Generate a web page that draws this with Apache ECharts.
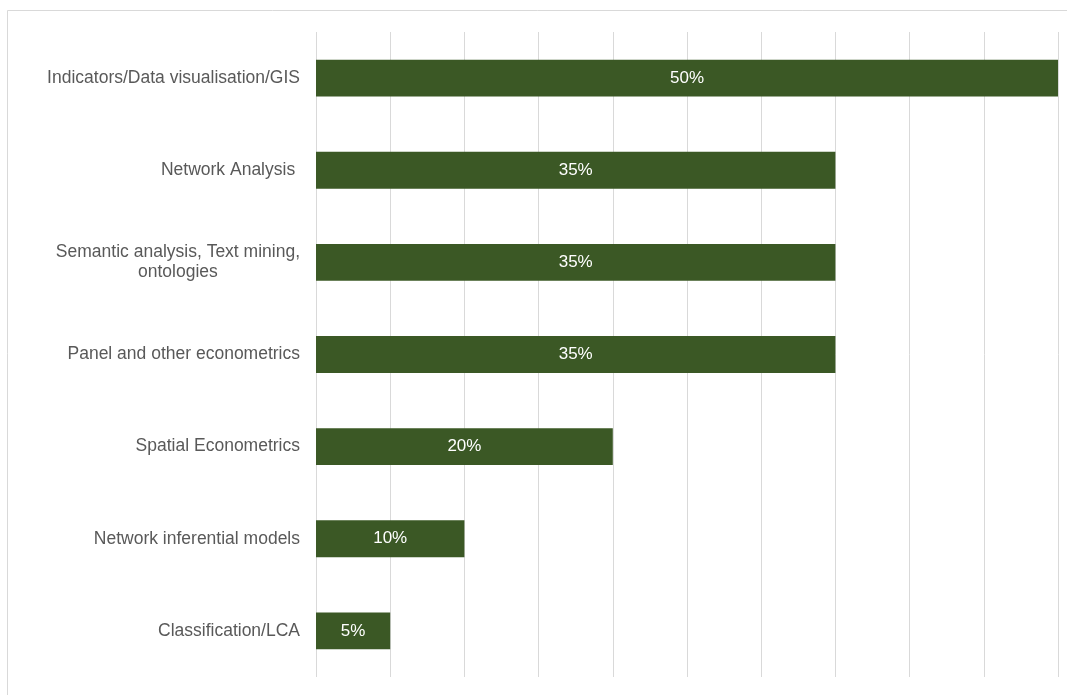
<!DOCTYPE html>
<html>
<head>
<meta charset="utf-8">
<script src="https://cdn.jsdelivr.net/npm/echarts@6/dist/echarts.min.js"></script>
<style>
html,body{margin:0;padding:0;background:#fff;}
#main{width:1067px;height:695px;}
</style>
</head>
<body>
<div id="main"></div>
<script>
const categories = [
  "Indicators/Data visualisation/GIS",
  "Network Analysis ",
  "Semantic analysis, Text mining,\nontologies",
  "Panel and other econometrics",
  "Spatial Econometrics",
  "Network inferential models",
  "Classification/LCA"
];
const values = [50, 35, 35, 35, 20, 10, 5];

const chart = echarts.init(document.getElementById('main'), null, {renderer: 'canvas'});
chart.setOption({
  animation: false,
  backgroundColor: '#ffffff',
  graphic: [{
    type: 'rect',
    shape: {x: 7.5, y: 10.5, width: 1200, height: 800},
    style: {fill: 'none', stroke: '#d9d9d9', lineWidth: 1},
    silent: true
  }],
  grid: {left: 316, right: 9, top: 32, bottom: 18, containLabel: false},
  xAxis: {
    type: 'value',
    min: 0, max: 50, interval: 5,
    axisLabel: {show: false},
    axisLine: {show: false},
    axisTick: {show: false},
    splitLine: {show: true, lineStyle: {color: '#d9d9d9', width: 1}}
  },
  yAxis: {
    type: 'category',
    inverse: true,
    data: categories,
    axisLine: {show: false},
    axisTick: {show: false},
    axisLabel: {
      margin: 16,
      color: '#595959',
      fontFamily: 'Liberation Sans, Arial, sans-serif',
      fontSize: 17.5,
      lineHeight: 20,
      formatter: function (v) {
        return v.split('\n').map(function (l) { return '{c|' + l + '}'; }).join('\n');
      },
      rich: {
        c: {align: 'center', color: '#595959', fontFamily: 'Liberation Sans, Arial, sans-serif', fontSize: 17.5, lineHeight: 20}
      }
    }
  },
  series: [{
    type: 'bar',
    data: values,
    barWidth: '40%',
    itemStyle: {color: '#3b5825'},
    label: {
      show: true,
      position: 'inside',
      color: '#ffffff',
      fontFamily: 'Liberation Sans, Arial, sans-serif',
      fontSize: 17,
      formatter: function (p) { return p.value + '%'; }
    }
  }]
});
</script>
</body>
</html>
